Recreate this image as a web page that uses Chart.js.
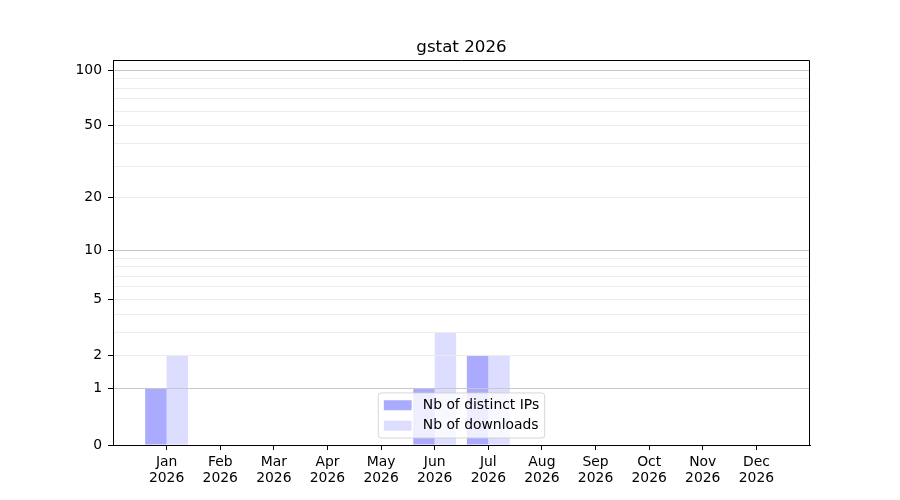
<!DOCTYPE html>
<html>
<head>
<meta charset="utf-8">
<title>gstat 2026</title>
<script src="https://cdn.jsdelivr.net/npm/chart.js@4/dist/chart.umd.min.js"></script>
<style>
  body { margin: 0; background: #fff; }
  canvas { display: block; }
</style>
</head>
<body>
<canvas id="chart1" width="900" height="500"></canvas>
<script>
// data
var months = ['Jan', 'Feb', 'Mar', 'Apr', 'May', 'Jun', 'Jul', 'Aug', 'Sep', 'Oct', 'Nov', 'Dec'];
var year = '2026';
var nbIps = [1, 0, 0, 0, 0, 1, 2, 0, 0, 0, 0, 0];
var nbDownloads = [2, 0, 0, 0, 0, 3, 2, 0, 0, 0, 0, 0];

// y axis ticks (symlog-ish, log10(1 + v))
var yLabelTicks = [0, 1, 2, 5, 10, 20, 50, 100];
var yMajorGrid = [1, 10, 100];
var yMinorGrid = [2, 3, 4, 5, 6, 7, 8, 9, 20, 30, 40, 50, 60, 70, 80, 90];
var yMax = 113.5;

var FONT = 'DejaVu Sans';

// scale y = log10(1 + v), so that 0 can sit at the bottom
class Log1pScale extends Chart.Scale {
    determineDataLimits() {
        const mm = this.getMinMax(true);
        this.min = Number.isFinite(this.options.min) ? this.options.min : Math.max(0, mm.min);
        this.max = Number.isFinite(this.options.max) ? this.options.max : mm.max;
    }
    buildTicks() {
        var vals = [0].concat(yLabelTicks, yMajorGrid, yMinorGrid)
            .filter(function (v, i, a) { return a.indexOf(v) === i; })
            .sort(function (a, b) { return a - b; });
        return vals.map(function (v) { return { value: v }; });
    }
    configure() {
        super.configure();
        this._start = Math.log10(1 + this.min);
        this._range = Math.log10(1 + this.max) - this._start;
    }
    getPixelForValue(value) {
        if (value === undefined || value === null || isNaN(value)) value = this.min;
        return this.getPixelForDecimal((Math.log10(1 + value) - this._start) / this._range);
    }
    getValueForPixel(pixel) {
        var d = this.getDecimalForPixel(pixel);
        return Math.pow(10, this._start + d * this._range) - 1;
    }
    getLabelForValue(value) {
        return String(value);
    }
}
Log1pScale.id = 'log1p';
Log1pScale.defaults = {};
Chart.register(Log1pScale);

// grid over the bars + top/right spines
const frameAndGrid = {
    id: 'frameAndGrid',
    afterDatasetsDraw(chart) {
        const ctx = chart.ctx;
        const a = chart.chartArea;
        chart.scales.y.drawGrid(a);
        const l = Math.round(a.left) + 0.5, r = Math.round(a.right) - 0.5;
        const t = Math.round(a.top) + 0.5, b = Math.round(a.bottom);
        ctx.save();
        ctx.strokeStyle = '#000';
        ctx.lineWidth = 1;
        ctx.beginPath();
        ctx.moveTo(l, t);
        ctx.lineTo(r, t);
        ctx.lineTo(r, b);
        ctx.stroke();
        ctx.restore();
    }
};

// matplotlib like legend inside the axes, lower center
const boxLegend = {
    id: 'boxLegend',
    afterDraw(chart) {
        const ctx = chart.ctx;
        const a = chart.chartArea;
        const fs = 13.9;
        const pad = 0.4 * fs, hl = 2.0 * fs, htp = 0.8 * fs, ls = 0.5 * fs, rowH = 13.5;
        const sets = chart.data.datasets;
        ctx.save();
        ctx.font = fs + 'px "' + FONT + '"';
        var tw = 0;
        sets.forEach(function (d) { tw = Math.max(tw, ctx.measureText(d.label).width); });
        const w = 2 * pad + hl + htp + tw;
        const h = 2 * pad + sets.length * rowH + (sets.length - 1) * ls;
        const x0 = (a.left + a.right) / 2 - w / 2;
        const y0 = a.bottom - 7 - h;

        ctx.beginPath();
        ctx.roundRect(x0, y0, w, h, 3);
        ctx.fillStyle = 'rgba(255,255,255,0.8)';
        ctx.fill();
        ctx.strokeStyle = 'rgba(204,204,204,0.8)';
        ctx.lineWidth = 1;
        ctx.stroke();

        sets.forEach(function (d, i) {
            const cy = y0 + pad + i * (rowH + ls) + rowH / 2;
            ctx.fillStyle = d.backgroundColor;
            ctx.fillRect(x0 + pad, cy - 5, hl, 10);
            ctx.fillStyle = '#000';
            ctx.textBaseline = 'middle';
            ctx.textAlign = 'left';
            ctx.fillText(d.label, x0 + pad + hl + htp, cy);
        });
        ctx.restore();
    }
};

const dat = {
    datasets: [{
        label: 'Nb of distinct IPs',
        backgroundColor: '#aaaaff',
        borderWidth: 0,
        inflateAmount: 0,
        data: nbIps.map(function (v, i) { return { x: i, y: v }; })
    }, {
        label: 'Nb of downloads',
        backgroundColor: '#ddddff',
        borderWidth: 0,
        inflateAmount: 0,
        data: nbDownloads.map(function (v, i) { return { x: i, y: v }; })
    }]
};

const config = {
    type: 'bar',
    data: dat,
    options: {
        responsive: false,
        animation: false,
        devicePixelRatio: 1,
        categoryPercentage: 0.8,
        barPercentage: 1.0,
        layout: { padding: { left: 0, right: 90, top: 0, bottom: 0 } },
        plugins: {
            legend: { display: false },
            tooltip: { enabled: false },
            title: {
                display: true,
                fullSize: false,
                text: 'gstat 2026',
                color: '#000',
                font: { family: FONT, size: 16.7, weight: 'normal', lineHeight: 1.2 },
                padding: { top: 38, bottom: 2 }
            }
        },
        scales: {
            x: {
                type: 'linear',
                min: -1,
                max: 12,
                offset: false,
                afterBuildTicks: function (s) {
                    s.ticks = months.map(function (m, i) { return { value: i }; });
                },
                afterFit: function (s) { s.height = 55; },
                ticks: {
                    autoSkip: false,
                    maxRotation: 0,
                    color: '#000',
                    padding: 5,
                    font: { family: FONT, size: 13.9, lineHeight: 1.1 },
                    callback: function (v) { return [months[v], year]; }
                },
                grid: { offset: false, drawOnChartArea: false, drawTicks: true, tickLength: 5, tickColor: '#000' },
                border: { display: true, color: '#000', width: 1 }
            },
            y: {
                type: 'log1p',
                position: 'left',
                min: 0,
                max: yMax,
                afterFit: function (s) { s.width = 113; },
                ticks: {
                    autoSkip: false,
                    color: '#000',
                    padding: 6,
                    font: { family: FONT, size: 13.9 },
                    callback: function (v) { return yLabelTicks.indexOf(v) >= 0 ? String(v) : ''; }
                },
                grid: {
                    drawTicks: true,
                    tickLength: 5,
                    lineWidth: 1,
                    color: function (c) {
                        var v = c.tick ? c.tick.value : null;
                        if (yMajorGrid.indexOf(v) >= 0) return '#c8c8c8';
                        if (yMinorGrid.indexOf(v) >= 0) return '#ececec';
                        return 'rgba(0,0,0,0)';
                    },
                    tickColor: function (c) {
                        var v = c.tick ? c.tick.value : null;
                        return yLabelTicks.indexOf(v) >= 0 ? '#000' : 'rgba(0,0,0,0)';
                    }
                },
                border: { display: true, color: '#000', width: 1 }
            }
        }
    },
    plugins: [frameAndGrid, boxLegend]
};

const myChart = new Chart(document.getElementById('chart1'), config);
</script>
</body>
</html>
